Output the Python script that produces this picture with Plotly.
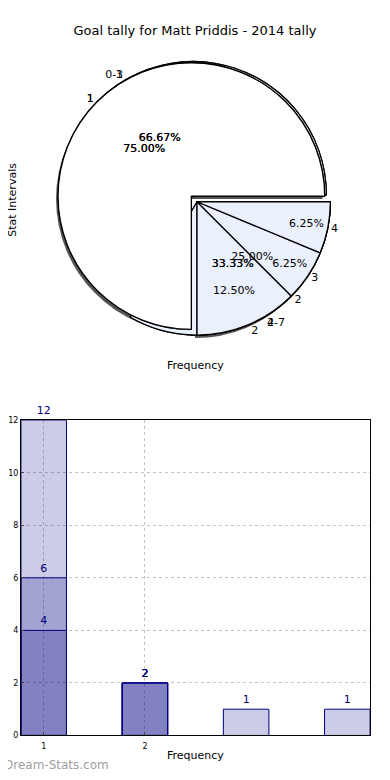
import plotly.graph_objects as go

# ---------------- data ----------------
title_text = "Goal tally for Matt Priddis - 2014 tally"

pieA_labels = ["0-3", "4-7"]
pieA_values = [4, 2]
pieB_labels = ["1", "2"]
pieB_values = [4, 2]
pieC_labels = ["1", "2"]
pieC_values = [6, 2]
pieD_labels = ["1", "2", "3", "4"]
pieD_values = [12, 2, 1, 1]

bar_x_light = [1, 2, 3, 4]
bar_y_light = [12, 2, 1, 1]
bar_x_mid = [1, 2]
bar_y_mid = [6, 2]
bar_x_dark = [1, 2]
bar_y_dark = [4, 2]

ytick_vals = [0, 2, 4, 6, 8, 10, 12]
xtick_vals = [1, 2]
xtick_text = ["1", "2"]

# ---------------- layout helpers ----------------
OFF = 8  # page body margin offset
W, H = 390 - OFF, 780 - OFF
FONT = "DejaVu Sans"

def px_x(v):
    return (v - OFF) / W

def px_y(v):
    return 1 - (v - OFF) / H

cx, cy, half = 196, 200, 143
pie_dom_x = [px_x(cx - half), px_x(cx + half)]
pie_dom_y = [px_y(cy + half), px_y(cy - half)]
shadow_dom_x = [px_x(cx - half - 2), px_x(cx + half - 2)]
shadow_dom_y = [px_y(cy + half + 3), px_y(cy - half + 3)]

PULL = 0.06
WHITE = "#ffffff"
LBLUE = "#eaf0fc"

pies = [
    (pieA_labels, pieA_values),
    (pieB_labels, pieB_values),
    (pieC_labels, pieC_values),
    (pieD_labels, pieD_values),
]


def rot_for(values):
    # first slice starts at 3 o'clock and runs counterclockwise
    return (90 - 360 * values[0] / sum(values)) % 360


fig = go.Figure()

common = dict(direction="counterclockwise", sort=False,
              hoverinfo="skip", showlegend=False)

# shadow
fig.add_trace(go.Pie(labels=pieD_labels, values=pieD_values, rotation=rot_for(pieD_values),
                     pull=[PULL] + [0] * (len(pieD_values) - 1),
                     domain=dict(x=shadow_dom_x, y=shadow_dom_y),
                     marker=dict(colors=["#555555"] * len(pieD_values),
                                 line=dict(width=0)),
                     textinfo="none", **common))

# fills
for labels, values in pies:
    n = len(values)
    fig.add_trace(go.Pie(labels=labels, values=values, rotation=rot_for(values),
                         pull=[PULL] + [0] * (n - 1),
                         domain=dict(x=pie_dom_x, y=pie_dom_y),
                         marker=dict(colors=[WHITE] + [LBLUE] * (n - 1),
                                     line=dict(color="#000000", width=1.3)),
                         textinfo="none", **common))

# percentage texts (inside)
for labels, values in pies:
    n = len(values)
    fig.add_trace(go.Pie(labels=labels, values=values, rotation=rot_for(values),
                         pull=[PULL] + [0] * (n - 1),
                         domain=dict(x=pie_dom_x, y=pie_dom_y),
                         marker=dict(colors=["rgba(0,0,0,0)"] * n,
                                     line=dict(width=0)),
                         texttemplate="%{percent:.2%}",
                         textposition="inside",
                         insidetextorientation="horizontal",
                         insidetextfont=dict(family=FONT, size=11, color="#000000"),
                         **common))

# label texts (outside)
for labels, values in pies:
    n = len(values)
    fig.add_trace(go.Pie(labels=labels, values=values, rotation=rot_for(values),
                         pull=[PULL] + [0] * (n - 1),
                         domain=dict(x=pie_dom_x, y=pie_dom_y),
                         marker=dict(colors=["rgba(0,0,0,0)"] * n,
                                     line=dict(width=0)),
                         texttemplate="%{label}",
                         textposition="outside",
                         outsidetextfont=dict(family=FONT, size=11, color="#000000"),
                         **common))

# ---------------- bars ----------------
BAR_FILL = "rgba(0,0,128,0.2)"
NAVY = "#000080"
for bx, by in [(bar_x_light, bar_y_light), (bar_x_mid, bar_y_mid), (bar_x_dark, bar_y_dark)]:
    fig.add_trace(go.Bar(x=bx, y=by, width=0.45,
                         marker=dict(color=BAR_FILL, line=dict(color=NAVY, width=1)),
                         text=[str(v) for v in by], textposition="outside",
                         textfont=dict(family=FONT, size=10, color=NAVY),
                         cliponaxis=False, showlegend=False, hoverinfo="skip"))

ann_common = dict(xref="paper", yref="paper", showarrow=False,
                  xanchor="center", yanchor="middle")

fig.update_layout(
    width=W, height=H,
    margin=dict(l=0, r=0, t=0, b=0),
    paper_bgcolor="white", plot_bgcolor="white",
    font=dict(family=FONT, color="#000000"),
    barmode="overlay",
    uniformtext=dict(minsize=11, mode="show"),
    title=dict(text=title_text, x=px_x(195), xanchor="center", y=px_y(30), yanchor="middle",
               font=dict(family=FONT, size=13, color="#000000")),
    xaxis=dict(domain=[px_x(19), px_x(370)], range=[0.775, 4.225],
               tickvals=xtick_vals, ticktext=xtick_text, ticks="inside", ticklen=3,
               ticklabelstandoff=3,
               tickfont=dict(size=8), showgrid=True, gridcolor="#c4c4c4", griddash="dot",
               gridwidth=1.2, showline=True, linecolor="#000000", mirror=True, zeroline=False),
    yaxis=dict(domain=[px_y(740), px_y(421)], range=[0, 12],
               tickvals=ytick_vals, ticks="inside", ticklen=3,
               tickfont=dict(size=8), showgrid=True, gridcolor="#c4c4c4", griddash="dot",
               gridwidth=1.2, showline=True, linecolor="#000000", mirror=True, zeroline=False),
    annotations=[
        dict(text="Frequency", x=px_x(194), y=px_y(366), font=dict(size=11), **ann_common),
        dict(text="Stat Intervals", x=px_x(11), y=px_y(198), textangle=-90,
             font=dict(size=11), **ann_common),
        dict(text="Frequency", x=px_x(194), y=px_y(760), font=dict(size=11), **ann_common),
        dict(text="Stat Intervals", x=px_x(-1), y=px_y(582), textangle=-90,
             font=dict(size=11), **ann_common),
        dict(text="Dream-Stats.com", x=px_x(55), y=px_y(770),
             font=dict(size=12, color="#a0a0a0"), **ann_common),
    ],
)

fig.write_html("out.html")
